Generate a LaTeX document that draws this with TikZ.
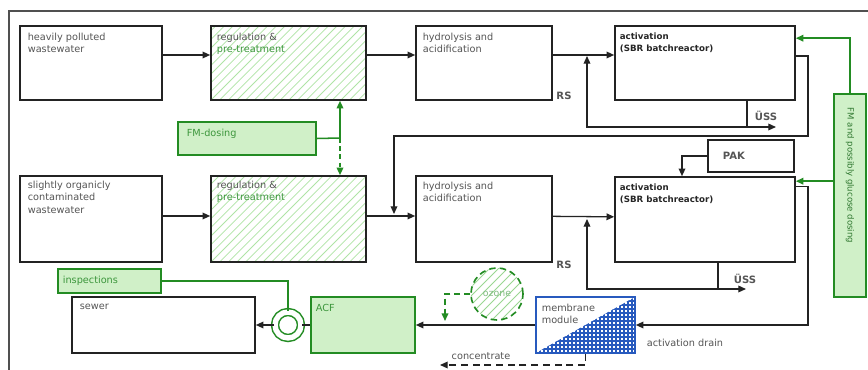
\documentclass[tikz,border=0pt]{standalone}
\usepackage{fontspec}
\setmainfont{DejaVu Sans}
\usepackage{tikz}
\usetikzlibrary{arrows.meta, positioning}
\definecolor{BoxLine}  {RGB}{35,  35,  35}
\definecolor{Frame}    {RGB}{80,  80,  80}
\definecolor{TextGrey} {RGB}{85,  85,  85}
\definecolor{GreenLine}{RGB}{35, 140,  35}
\definecolor{GreenText}{RGB}{60, 150,  60}
\definecolor{GreenFill}{RGB}{208,240, 200}
\definecolor{Hatch}    {RGB}{175,228, 165}
\definecolor{MemBlue}  {RGB}{40,  90, 190}

\begin{document}
\begin{tikzpicture}[x=0.3mm, y=-0.3mm, >={Triangle[length=2.3mm, width=2mm]},
  line width=1.1pt,
  procbox/.style  = {draw=BoxLine, fill=white, line width=1.4pt, inner sep=0pt},
  hatchfill/.style = {path picture={
      \foreach \k in {-12,...,20}
        \draw[Hatch, solid, line width=0.7pt]
          ([xshift=\k*2.6mm]path picture bounding box.south west) -- ++(45:8cm);}},
  hatchbox/.style = {procbox, hatchfill},
  membox/.style   = {draw=MemBlue, fill=white, line width=1.4pt, inner sep=0pt,
    path picture={
      \clip (path picture bounding box.south west) -- (path picture bounding box.north east)
            -- (path picture bounding box.south east) -- cycle;
      \foreach \k in {0,...,26}
        \draw[MemBlue, line width=1.2pt]
          ([xshift=\k*1.2mm]path picture bounding box.south west) -- ++(0,2cm);
      \foreach \k in {0,...,15}
        \draw[MemBlue, line width=1.2pt]
          ([yshift=\k*1.2mm]path picture bounding box.south west) -- ++(3.2cm,0);}},
  dosebox/.style  = {draw=GreenLine, fill=GreenFill, line width=1.4pt,
                     inner sep=0pt},
  txt/.style  = {anchor=north west, inner sep=0pt, align=left, text=TextGrey,
                 font=\fontsize{8.3}{10.6}\selectfont},
  btxt/.style = {txt, text=black!85, font=\fontsize{7.4}{10.6}\selectfont\bfseries},
  lbl/.style  = {inner sep=0pt, text=TextGrey, font=\fontsize{8.6}{9}\selectfont\bfseries},
  flow/.style  = {->, draw=BoxLine},
  gflow/.style = {->, draw=GreenLine, line width=1.3pt}
]
  \fill[white] (0,0) rectangle (868,370);
  \useasboundingbox (0,0) rectangle (868,370);
  \draw[Frame, line width=1.2pt] (9,370) -- (9,11) -- (868,11);

  %% top line
  \node[procbox, minimum width=42.6mm, minimum height=22.2mm] (hp) at (91,63) {};
  \node[txt] (hpt) at ([shift={(2.4mm,-2.1mm)}]hp.north west)
    {heavily polluted\\wastewater};
  \node[hatchbox, minimum width=46.5mm, minimum height=22.2mm] (rp1) at (288.5,63) {};
  \node[txt] (rp1t) at ([shift={(1.8mm,-2.1mm)}]rp1.north west)
    {regulation \&\\\textcolor{GreenText}{pre-treatment}};
  \node[procbox, minimum width=40.8mm, minimum height=22.2mm] (hy1) at (484,63) {};
  \node[txt] (hy1t) at ([shift={(2.1mm,-2.1mm)}]hy1.north west)
    {hydrolysis and\\acidification};
  \node[procbox, minimum width=54mm, minimum height=22.2mm] (ac1) at (705,63) {};
  \node[btxt] (ac1t) at ([shift={(1.5mm,-2.1mm)}]ac1.north west)
    {activation\\(SBR batchreactor)};

  \node[dosebox, minimum width=41.4mm, minimum height=9.9mm] (fm) at (247,138.5) {};
  \node[txt, text=GreenText] (fmt) at ([shift={(2.7mm,-2.2mm)}]fm.north west) {FM-dosing};

  \node[procbox, minimum width=25.8mm, minimum height=9.6mm] (pak) at (751,156) {};
  \node[lbl, anchor=west] (pakt) at ([xshift=4.5mm]pak.west) {PAK};

  %% bottom line
  \node[procbox, minimum width=42.6mm, minimum height=25.8mm] (so) at (91,219) {};
  \node[txt] (sot) at ([shift={(2.4mm,-1.6mm)}]so.north west)
    {slightly organicly\\contaminated\\wastewater};
  \node[hatchbox, minimum width=46.5mm, minimum height=25.8mm] (rp2) at (288.5,219) {};
  \node[txt] (rp2t) at ([shift={(1.8mm,-1.6mm)}]rp2.north west)
    {regulation \&\\\textcolor{GreenText}{pre-treatment}};
  \node[procbox, minimum width=40.8mm, minimum height=25.8mm] (hy2) at (484,219) {};
  \node[txt] (hy2t) at ([shift={(2.1mm,-1.9mm)}]hy2.north west)
    {hydrolysis and\\acidification};
  \node[procbox, minimum width=54mm, minimum height=25.5mm] (ac2) at (705,219.5) {};
  \node[btxt] (ac2t) at ([shift={(1.5mm,-2.1mm)}]ac2.north west)
    {activation\\(SBR batchreactor)};

  \node[dosebox, minimum width=9.6mm, minimum height=60.9mm] (fmg) at (850,195.5) {};
  \node[inner sep=0pt, rotate=-90, anchor=west, text=GreenText!80!black,
        font=\fontsize{7.3}{9}\selectfont] (fmgt) at ([yshift=-4.2mm]fmg.north)
    {FM and possibly glucose dosing};

  %% treatment line
  \node[dosebox, minimum width=30.9mm, minimum height=7.2mm] (insp) at (109.5,281) {};
  \node[txt, anchor=west, text=GreenText] (inspt) at ([xshift=1.5mm]insp.west) {inspections};
  \node[procbox, minimum width=54.9mm, minimum height=16.8mm] (sew) at (163.5,325) {};
  \node[txt] (sewt) at ([shift={(2.4mm,-2.2mm)}]sew.north west) {sewer};
  \node[circle, draw=GreenLine, line width=1.3pt, double=white, double distance=1.6mm,
        minimum size=7.8mm, inner sep=0pt] (ring) at (288,325) {};
  \node[dosebox, minimum width=31.2mm, minimum height=16.8mm] (acf) at (363,325) {};
  \node[txt, text=GreenText] (acft) at ([shift={(1.5mm,-2.2mm)}]acf.north west) {ACF};

  %% ozone, hatched by hand
  \begin{scope}
    \clip (497,294) circle (26);
    \foreach \k in {-60,-51,...,60}
      \draw[Hatch!85!GreenLine, line width=0.8pt] (497+\k-40,334) -- (497+\k+40,254);
  \end{scope}
  \node[circle, draw=GreenLine, line width=1.4pt, dash pattern=on 5.5pt off 3.5pt,
        minimum size=15.6mm, inner sep=0pt, text=GreenText!65,
        font=\fontsize{8}{9}\selectfont] (oz) at (497,294) {ozone};

  \node[membox, minimum width=29.7mm, minimum height=16.8mm] (mem) at (585.5,325) {};
  \node[txt] (memt) at ([shift={(1.8mm,-2.1mm)}]mem.north west) {membrane\\module};

  %% flows, top line
  \draw[flow] ([yshift=2.4mm]hp.east) -- ([yshift=2.4mm]rp1.west);
  \draw[flow] ([yshift=2.4mm]rp1.east) -- ([yshift=2.4mm]hy1.west);
  \draw[flow] ([yshift=2.4mm]hy1.east) -- ([yshift=2.4mm]ac1.west);
  \coordinate (uj1) at (747,127);
  \coordinate (uo1) at (776,127);
  \coordinate (rs1) at (587,56);
  \draw[BoxLine] (ac1.south -| uj1) -- (uj1);
  \draw[flow] (uj1) -- (uo1);
  \draw[flow] (uj1) -| (rs1);
  \node[lbl] (rs1l) at (564,96) {RS};
  \node[lbl] (us1l) at (766,116) {ÜSS};

  %% overflow to bottom line
  \coordinate (ov1) at (808,136);
  \coordinate (ov2) at (394,214);
  \draw[flow] ([yshift=2.1mm]ac1.east) -| (ov1) -| (ov2);

  %% flows, bottom line
  \draw[flow] ([yshift=0.9mm]so.east) -- ([yshift=0.9mm]rp2.west);
  \draw[flow] ([yshift=0.9mm]rp2.east) -- ([yshift=0.9mm]hy2.west);
  \draw[flow] ([yshift=0.8mm]hy2.east) -- ([yshift=0.8mm]ac2.west);
  \coordinate (uj2) at (718,289);
  \coordinate (uo2) at (746,289);
  \coordinate (rs2) at (587,219);
  \draw[BoxLine] (ac2.south -| uj2) -- (uj2);
  \draw[flow] (uj2) -- (uo2);
  \draw[flow] (uj2) -| (rs2);
  \node[lbl] (rs2l) at (564,265) {RS};
  \node[lbl] (us2l) at (745,279) {ÜSS};
  \coordinate (pk) at (682,0);
  \draw[flow] (pak.west) -| (pk |- ac2.north);

  %% drain and treatment
  \coordinate (dr) at (808,250);
  \draw[flow] ([yshift=-3mm]ac2.north east) -| (dr) |- (mem.east);
  \node[txt, anchor=center] (drl) at (685,343) {activation drain};
  \draw[flow] (mem.west) -- (acf.east);
  \coordinate (oz1) at (445,321);
  \draw[gflow, dash pattern=on 5pt off 3.5pt] (oz.west) -| (oz1);
  \coordinate (cc) at (440,365);
  \draw[flow, dash pattern=on 6pt off 4pt] (mem.south) |- (cc);
  \node[txt, anchor=center] (ccl) at (481,356) {concentrate};
  \draw[BoxLine] (acf.west) -- (ring.east);
  \draw[flow] (ring.west) -- (sew.east);
  \draw[GreenLine, line width=1.3pt] (insp.east) -| (ring.north);

  %% dosing
  \coordinate (fmx) at (340,138);
  \draw[GreenLine, line width=1.3pt] (fm.east) -- (fmx);
  \draw[gflow] (fmx) -- (fmx |- rp1.south);
  \draw[gflow, dash pattern=on 4pt off 3pt] (fmx) -- (fmx |- rp2.north);
  \coordinate (in1) at ([yshift=-3.9mm]ac1.north east);
  \coordinate (in2) at ([yshift=-1.5mm]ac2.north east);
  \draw[gflow] (fmg.north) |- (in1);
  \draw[gflow] (fmg.west |- in2) -- (in2);
\end{tikzpicture}
\end{document}
